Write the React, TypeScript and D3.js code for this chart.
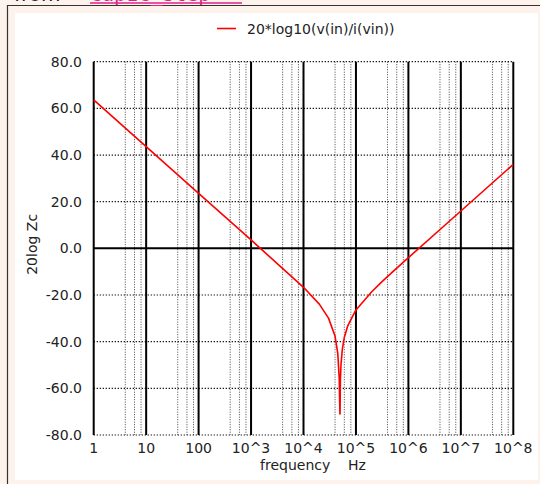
import React, { useEffect, useRef } from 'react';
import * as d3 from 'd3';

// readings from the plot: frequency (Hz) and 20*log10(|Z|) (dB)
const freqs = [1, 10, 100, 1e3, 1e4, 2e4, 3e4, 4e4, 4.5e4, 4.8e4, 4.95e4, 4.97e4, 5.05e4, 5.2e4, 5.5e4, 6e4, 7e4, 1e5, 2e5, 3e5, 5e5, 1e6, 1e7, 1e8];
const zdb = [63.6, 43.6, 23.6, 3.6, -16.7, -23.9, -29.9, -37.7, -45.0, -55.8, -71.0, -71.0, -56.2, -49.5, -43.3, -38.2, -33.1, -26.4, -18.6, -14.7, -10.1, -4.0, 16.0, 36.0];

const yTicks = [80, 60, 40, 20, 0, -20, -40, -60, -80];
const xTicks = [1, 10, 100, 1e3, 1e4, 1e5, 1e6, 1e7, 1e8];
const xTickLabels = ['1', '10', '100', '10^3', '10^4', '10^5', '10^6', '10^7', '10^8'];
const minorSteps = [4, 6, 8];

const legendLabel = '20*log10(v(in)/i(vin))';

function App() {
  const ref = useRef<SVGSVGElement>(null);

  useEffect(() => {
    const svg = d3.select(ref.current);
    svg.selectAll('*').remove();

    const width = 540, height = 484;
    const left = 93.7, right = 513.3, top = 61.7, bottom = 435;
    svg.attr('width', width).attr('height', height)
      .style('position', 'absolute').style('left', 0).style('top', 0)
      .style('font-family', 'DejaVu Sans, sans-serif');

    // window background + frame
    svg.append('rect').attr('width', width).attr('height', height).attr('fill', '#fdf2ec');
    svg.append('rect').attr('x', 15).attr('y', 13).attr('width', 523).attr('height', 467).attr('fill', '#fff');
    svg.append('line').attr('x1', 7).attr('x2', width).attr('y1', 5.5).attr('y2', 5.5).attr('stroke', '#333').attr('stroke-width', 1.2);
    svg.append('line').attr('x1', 7.5).attr('x2', 7.5).attr('y1', 5).attr('y2', height).attr('stroke', '#333').attr('stroke-width', 1.2);

    // title partly out of view
    svg.append('text').attr('x', 14).attr('y', 1).attr('font-size', 20).attr('fill', '#222').text('from');
    svg.append('text').attr('x', 90).attr('y', 1).attr('font-size', 20).attr('fill', '#e0208a')
      .attr('font-family', 'DejaVu Sans Mono, monospace').text('cap1c_step');
    svg.append('line').attr('x1', 90).attr('x2', 242).attr('y1', 3).attr('y2', 3).attr('stroke', '#e0208a').attr('stroke-width', 1.5);

    const x = d3.scaleLog().domain([1, 1e8]).range([left, right]);
    const y = d3.scaleLinear().domain([-80, 80]).range([bottom, top]);

    const g = svg.append('g');

    // minor vertical dotted lines
    const minors: number[] = [];
    xTicks.slice(0, -1).forEach((d) => minorSteps.forEach((m) => minors.push(d * m)));
    g.selectAll('.minor').data(minors).enter().append('line')
      .attr('x1', (d) => x(d)).attr('x2', (d) => x(d))
      .attr('y1', top).attr('y2', bottom)
      .attr('stroke', '#444').attr('stroke-width', 1).attr('stroke-dasharray', '1,1.5');

    // horizontal dotted lines
    g.selectAll('.hgrid').data(yTicks.filter((d) => d !== 0)).enter().append('line')
      .attr('x1', left).attr('x2', right)
      .attr('y1', (d) => y(d)).attr('y2', (d) => y(d))
      .attr('stroke', '#000').attr('stroke-width', 1.2).attr('stroke-dasharray', '1.2,1.8');

    // decade lines
    g.selectAll('.major').data(xTicks).enter().append('line')
      .attr('x1', (d) => x(d)).attr('x2', (d) => x(d))
      .attr('y1', top).attr('y2', bottom)
      .attr('stroke', '#000').attr('stroke-width', 2);

    // zero line
    g.append('line').attr('x1', left).attr('x2', right).attr('y1', y(0)).attr('y2', y(0))
      .attr('stroke', '#000').attr('stroke-width', 2);

    // curve
    const line = d3.line<number>().x((_, i) => x(freqs[i])).y((d) => y(d));
    g.append('path').datum(zdb).attr('d', line).attr('fill', 'none')
      .attr('stroke', '#f00').attr('stroke-width', 1.6).attr('stroke-linejoin', 'round');

    // tick labels
    svg.selectAll('.ylab').data(yTicks).enter().append('text')
      .attr('x', 82).attr('y', (d) => y(d) + 5).attr('text-anchor', 'end')
      .attr('font-size', 14).attr('fill', '#222').text((d) => d.toFixed(1));
    svg.selectAll('.xlab').data(xTicks).enter().append('text')
      .attr('x', (d) => x(d)).attr('y', 453).attr('text-anchor', 'middle')
      .attr('font-size', 14).attr('fill', '#222').text((_, i) => xTickLabels[i]);

    svg.append('text').attr('x', 313).attr('y', 470).attr('text-anchor', 'middle')
      .attr('font-size', 14).attr('fill', '#222').attr('xml:space', 'preserve').style('white-space', 'pre')
      .text('frequency    Hz');
    svg.append('text').attr('transform', `translate(37,${y(0) - 4}) rotate(-90)`).attr('text-anchor', 'middle')
      .attr('font-size', 14).attr('fill', '#222').text('20log Zc');

    // legend
    svg.append('line').attr('x1', 217).attr('x2', 236).attr('y1', 28.5).attr('y2', 28.5)
      .attr('stroke', '#f00').attr('stroke-width', 1.6);
    svg.append('text').attr('x', 247).attr('y', 34).attr('font-size', 14).attr('fill', '#222').text(legendLabel);
  }, []);

  return <svg ref={ref}></svg>;
}

export default App;
